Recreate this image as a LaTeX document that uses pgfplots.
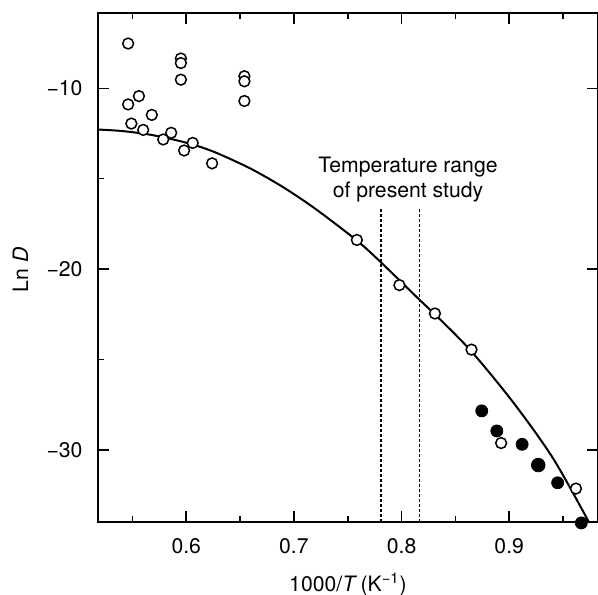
\documentclass[border=0pt]{standalone}
\usepackage{fontspec}
\setmainfont{TeX Gyre Heros}
\usepackage{pgfplots}
\pgfplotsset{compat=1.18}
\begin{document}
\fontsize{10.6}{12.7}\selectfont
\begin{tikzpicture}
\begin{axis}[
  scale only axis, width=250pt, height=254.5pt,
  xmin=0.518, xmax=0.9825, ymin=-34, ymax=-5.83,
  clip=false,
  axis line style={line width=1pt},
  tick align=inside, major tick length=5.5pt, minor tick length=3pt,
  tick style={line width=0.8pt, black},
  xtick={0.6,0.7,0.8,0.9}, xticklabels={0.6,0.7,0.8,0.9},
  minor xtick={0.55,0.65,0.75,0.85,0.95},
  ytick={-30,-20,-10}, yticklabels={−30,−20,−10},
  extra y ticks={-25,-15}, extra y tick labels={},
  extra y tick style={ytick pos=left, major tick length=3pt},
  xticklabel style={yshift=-4.5pt},
  yticklabel style={xshift=-4pt},
  xlabel={1000/\textit{T}\,(K\textsuperscript{−1})},
  ylabel={Ln \textit{D}},
  xlabel style={at={(rel axis cs:0.5,0)}, anchor=base, yshift=-34.5pt},
  ylabel style={at={(rel axis cs:-0.155,0.495)}, anchor=center},
]
% fitted curve
\addplot[black, line width=1pt, smooth, no marks] coordinates {
(0.518,-12.28) (0.54,-12.36) (0.565,-12.55) (0.59,-12.86) (0.611,-13.2)
(0.63,-13.62) (0.66,-14.45) (0.69,-15.47) (0.72,-16.67) (0.758,-18.4)
(0.780,-19.58) (0.817,-21.72) (0.83,-22.45) (0.864,-24.5) (0.904,-27.4)
(0.941,-30.5) (0.974,-34.0)};
% temperature range
\addplot[black, line width=0.8pt, dash pattern=on 1.2pt off 1.3pt, no marks] coordinates {(0.781,-16.7) (0.781,-34)};
\addplot[black, line width=0.8pt, dash pattern=on 1.2pt off 1.3pt, no marks] coordinates {(0.8168,-16.7) (0.8168,-34)};
\node[align=center, font=\fontsize{10.6}{12.2}\selectfont] at (axis cs:0.806,-15.05) {Temperature range\\of present study};
% open circles
\addplot[only marks, mark=*, mark size=2.7pt, mark options={fill=white, draw=black, line width=0.75pt}] coordinates {
(0.546,-7.52) (0.595,-8.35) (0.595,-8.6) (0.595,-9.52)
(0.654,-9.33) (0.654,-9.61) (0.654,-10.7)
(0.546,-10.89) (0.556,-10.43) (0.568,-11.47) (0.549,-11.95)
(0.560,-12.3) (0.586,-12.46) (0.5786,-12.83) (0.606,-13.02)
(0.598,-13.44) (0.624,-14.15)
(0.7585,-18.39) (0.798,-20.89) (0.831,-22.46) (0.865,-24.46)
(0.8925,-29.63) (0.962,-32.15)};
% filled circles
\addplot[only marks, mark=*, mark size=3pt, mark options={fill=black, draw=black}] coordinates {
(0.8745,-27.85) (0.8885,-28.96) (0.912,-29.7) (0.945,-31.83) (0.967,-34.05)};
\addplot[only marks, mark=*, mark size=3.4pt, mark options={fill=black, draw=black}] coordinates {
(0.927,-30.85)};
\end{axis}
\pgfresetboundingbox
\path ([shift={(-49pt,-36pt)}]current axis.south west) rectangle ([shift={(0pt,6.5pt)}]current axis.north east);
\end{tikzpicture}
\end{document}
